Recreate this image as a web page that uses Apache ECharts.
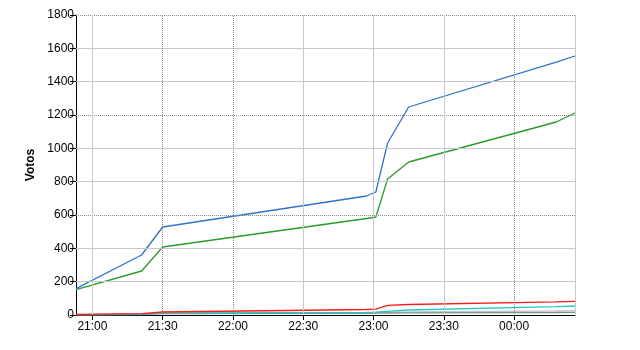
<!DOCTYPE html>
<html>
<head>
<meta charset="utf-8">
<script src="https://cdn.jsdelivr.net/npm/echarts@6/dist/echarts.min.js"></script>
<style>html,body{margin:0;padding:0;background:#fff}#c{width:640px;height:350px}</style>
</head>
<body>
<div id="c"></div>
<script>
// sample times (HH:mm, day rolls over after midnight)
var times = ["20:53", "21:21", "21:30", "22:57", "23:01", "23:06", "23:15", "00:18", "00:26"];
var blueVals = [158, 360, 528, 714, 738, 1032, 1248, 1517, 1554];
var greenVals = [152, 264, 408, 579, 588, 816, 918, 1158, 1212];
var redVals = [4, 8, 18, 33, 35, 58, 63, 79, 82];
var cyanVals = [2, 6, 13, 16, 17, 22, 30, 50, 54];
var grayVals = [2, 4, 10, 13, 14, 16, 18, 24, 26];
var darkVals = [1, 3, 8, 10, 11, 12, 13, 15, 16];
var axisStart = "20:53", axisEnd = "00:26";
var xTickLabels = ["21:00", "21:30", "22:00", "22:30", "23:00", "23:30", "00:00"];
var yTicks = [0, 200, 400, 600, 800, 1000, 1200, 1400, 1600, 1800];
var yDotted = [600, 1200, 1800];
var xGridDotted = ["21:30", "22:00", "00:00"];
var yLabel = "Votos";

// minutes since 20:00 (after midnight rolls into next day)
function mins(s) {
  var p = s.split(":"), h = +p[0], m = +p[1];
  if (h < 12) h += 24;
  return (h - 20) * 60 + m;
}
function pairs(vals) { return times.map(function (t, i) { return [mins(t), vals[i]]; }); }
function pad(n) { return (n < 10 ? "0" : "") + n; }
function fmt(v) { var h = Math.floor(v / 60) + 20, m = Math.round(v % 60); return pad(h % 24) + ":" + pad(m); }

var solidGrid = {color: "#c8c8c8", width: 1, type: "solid"};
var dotGrid = {color: "#8c8c8c", width: 1, type: [1, 1]};
var gridLines = [];
yTicks.forEach(function (v) {
  if (v === 0) return;
  gridLines.push({yAxis: v, lineStyle: yDotted.indexOf(v) >= 0 ? dotGrid : solidGrid});
});
xTickLabels.forEach(function (t) {
  gridLines.push({xAxis: mins(t), lineStyle: xGridDotted.indexOf(t) >= 0 ? dotGrid : solidGrid});
});
gridLines.push({xAxis: mins(axisEnd), lineStyle: solidGrid});

function line(name, vals, color, extra) {
  var s = {
    name: name, type: "line", data: pairs(vals), symbol: "none", silent: true,
    lineStyle: {color: color, width: 1.3}, itemStyle: {color: color}, animation: false
  };
  if (extra) for (var k in extra) s[k] = extra[k];
  return s;
}

var xTickValues = xTickLabels.map(mins);
var chart = echarts.init(document.getElementById("c"), null, {renderer: "canvas"});
chart.setOption({
  animation: false,
  grid: {left: 76, right: 65, top: 15, bottom: 35, containLabel: false},
  xAxis: {
    type: "value", min: mins(axisStart), max: mins(axisEnd),
    axisLine: {lineStyle: {color: "#000", width: 1}},
    axisTick: {show: true, length: 5, lineStyle: {color: "#000"}, customValues: xTickValues},
    axisLabel: {
      color: "#000", fontFamily: "Liberation Sans, Arial", fontSize: 12, margin: 6,
      customValues: xTickValues, formatter: fmt
    },
    splitLine: {show: false}
  },
  yAxis: {
    type: "value", min: 0, max: 1800, interval: 200,
    name: yLabel, nameLocation: "middle", nameGap: 34, nameRotate: 90,
    nameTextStyle: {color: "#000", fontWeight: "bold", fontFamily: "Liberation Sans, Arial", fontSize: 12},
    axisLine: {show: true, lineStyle: {color: "#000", width: 1}},
    axisTick: {show: true, length: 6, lineStyle: {color: "#000"}},
    axisLabel: {color: "#000", fontFamily: "Liberation Sans, Arial", fontSize: 12, margin: 2,
      formatter: function (v) { return String(v); }},
    splitLine: {show: false}
  },
  series: [
    line("grid", [null, null, null, null, null, null, null, null, null], "#fff", {
      z: 1,
      markLine: {silent: true, symbol: ["none", "none"], label: {show: false}, animation: false, data: gridLines}
    }),
    line("gray", grayVals, "#c4c4c4"),
    line("dark", darkVals, "#7a9696"),
    line("cyan", cyanVals, "#22c8c8"),
    line("red", redVals, "#ff1a1a"),
    line("green", greenVals, "#2a9a2a"),
    line("blue", blueVals, "#2e74c9")
  ]
});
</script>
</body>
</html>
